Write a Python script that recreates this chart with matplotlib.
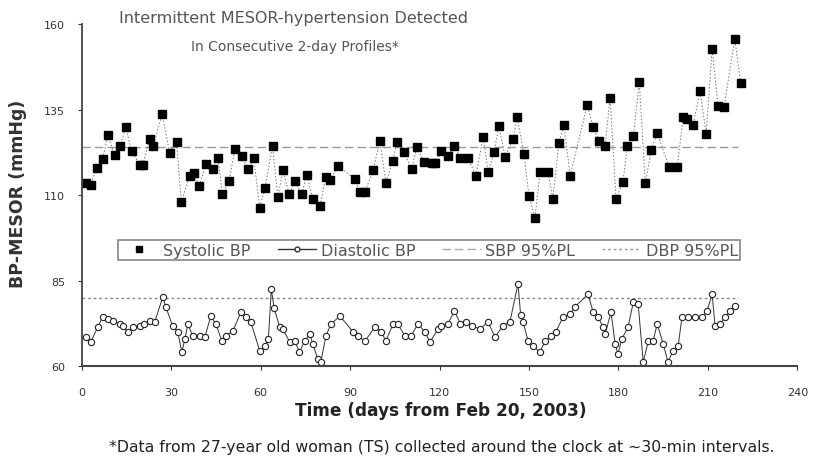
import matplotlib
matplotlib.use("Agg")
import matplotlib.pyplot as plt
from matplotlib.lines import Line2D

plt.rcParams['font.family'] = ['DejaVu Sans']

# systolic MESOR per 2-day profile
sbp_days = [1.5, 3, 5, 7, 8.8, 11, 12.8, 14.8, 16.7, 19.5, 20.5, 22.8, 24, 27, 29.5, 31.8,
            33.4, 36.2, 37.5, 39.3, 41.8, 44, 45.7, 47.2, 49.4, 51.4, 53.6, 55.8, 57.7, 59.7,
            61.4, 64, 65.8, 67.5, 69.5, 71.5, 73.8, 75.5, 77.5, 79.9, 81.9, 83.2, 86, 91.6,
            93.3, 95, 97.7, 100, 102, 104.3, 105.7, 108, 110.6, 112.4, 114.8, 117.5, 118.5,
            120.4, 123, 125, 127, 129.5, 132.2, 134.6, 136.3, 138.3, 139.9, 142, 144.6, 146,
            148.3, 150, 152, 153.7, 156.4, 158, 160, 161.7, 163.8, 169.5, 171.5, 173.5, 175.5,
            177.2, 179.2, 181.5, 183, 185, 187, 189, 191, 193, 197, 199.7, 201.7, 203, 205,
            207.4, 209.4, 211.4, 213.4, 215.4, 219, 221]
sbp = [113.5, 113, 117.9, 120.5, 127.5, 121.7, 124.3, 129.9, 122.9, 118.8, 118.8, 126.4, 124.3,
       133.7, 122.3, 125.5, 108, 115.6, 116.5, 112.6, 119, 117.6, 120.8, 110.3, 114, 123.5,
       121.4, 117.6, 120.8, 106.2, 112, 124.3, 109.4, 117.3, 110.3, 114, 110.3, 115.8, 108.8,
       106.8, 115.3, 114.4, 118.5, 114.7, 110.9, 110.9, 117.3, 125.8, 113.5, 120, 125.5,
       122.6, 117.6, 124, 119.6, 119.4, 119.4, 122.9, 121.4, 124.3, 120.8, 120.8, 115.6, 127,
       116.7, 122.6, 130.2, 121.1, 126.4, 132.8, 122, 109.7, 103.3, 116.7, 116.7, 108.8,
       125.2, 130.5, 115.6, 136.3, 129.9, 125.8, 124.3, 138.4, 108.8, 113.8, 124.3, 127.3,
       143, 113.5, 123.2, 128.1, 118.2, 118.2, 132.8, 132.3, 130.5, 140.4, 127.8, 152.7,
       136, 135.7, 155.6, 142.7]

# diastolic MESOR per 2-day profile
dbp_days = [1.5, 3, 5.4, 7, 8.7, 10.4, 12.8, 13.8, 15.4, 17.1, 19.5, 21, 22.8, 24.5, 27.2, 28.2,
            30.5, 32.2, 33.6, 34.6, 35.6, 37.2, 39.6, 41.3, 43.3, 45, 47, 48.3, 50.7, 53.4, 55,
            56.7, 59.7, 61.5, 62.6, 63.6, 64.5, 66.4, 67.4, 69.8, 71.5, 73, 74.8, 76.5, 77.5,
            79.2, 80.2, 81.9, 83.6, 86.6, 91, 92.6, 95, 98.3, 100.5, 102, 104.4, 106, 108.4,
            110.4, 112.8, 115, 116.8, 119.5, 120.5, 122.8, 125, 127, 129, 131, 133.6, 136.2,
            138.6, 141.2, 143.6, 146.3, 147.2, 148, 149.7, 151.3, 153.7, 155.4, 157.4, 159,
            161.4, 163.8, 165.4, 169.8, 171.5, 173.2, 174.8, 175.6, 177.5, 178.9, 179.8, 181.2,
            183.2, 185, 186.6, 188.3, 190, 191.6, 193, 195, 196.6, 198.3, 200, 201.3, 203.4,
            205.7, 208, 209.7, 211.4, 212.4, 214, 215.8, 217.4, 219]
dbp = [68.5, 67, 71.4, 74.3, 73.7, 73.2, 72.3, 71.7, 70, 71.4, 71.7, 72.3, 73.2, 72.9, 80.2, 77.3,
       71.7, 70, 64.1, 67.9, 72.3, 68.8, 68.8, 68.5, 74.6, 72.3, 67.3, 68.8, 70.2, 75.8, 74.3,
       72.9, 64.4, 66, 68, 82.5, 77, 71.4, 70.8, 67, 67.3, 64.1, 67.3, 69.4, 66.4, 62, 61.2,
       68.8, 72.3, 74.6, 70, 68.8, 67.3, 71.4, 70, 67.3, 72.3, 72.3, 68.8, 68.8, 72.3, 70, 67,
       70.8, 71.7, 72.3, 76.1, 72.3, 72.9, 71.7, 70.8, 72.9, 68.5, 71.7, 72.9, 84, 75, 72.9,
       67.3, 65.8, 64.1, 67.3, 68.8, 70, 74.3, 75.2, 77.3, 81, 75.8, 74.3, 71.4, 69.5, 75.8,
       66.4, 63.5, 68, 71.4, 78.7, 78.1, 61.2, 67.3, 67.3, 72.3, 66.4, 61.2, 64.4, 65.8,
       74.3, 74.3, 74.3, 74.3, 76.1, 81, 71.7, 72.3, 74.3, 76.1, 77.6]

# 95% prediction limits
sbp_pl = 124
dbp_pl = 80
pl_span = [0, 220]

fig = plt.figure(figsize=(8.17, 4.64), dpi=100)
ax = fig.add_axes([0.100, 0.209, 0.876, 0.737])

ax.plot(pl_span, [sbp_pl, sbp_pl], color="#999999", lw=1.0, ls=(0, (6, 3)))
ax.plot(pl_span, [dbp_pl, dbp_pl], color="#888888", lw=1.0, ls=(0, (2, 2)))

ax.plot(sbp_days, sbp, color="#777777", lw=0.7, ls=(0, (1.5, 2)),
        marker="s", ms=5.3, mfc="black", mec="black")
ax.plot(dbp_days, dbp, color="#333333", lw=0.7,
        marker="o", ms=4.5, mfc="white", mec="#222222", mew=0.8)

ax.set_xlim(0, 240)
ax.set_ylim(60, 160)
ax.set_xticks(range(0, 241, 30))
ax.set_yticks([60, 85, 110, 135, 160])
ax.tick_params(labelsize=8, colors="#333333", length=3, width=0.8)
ax.tick_params(axis="x", pad=12)
ax.tick_params(axis="y", pad=9)
for s in ["top", "right"]:
    ax.spines[s].set_visible(False)
ax.spines["left"].set_linewidth(1.3)
ax.spines["bottom"].set_linewidth(1.5)
ax.spines["left"].set_color("#444444")
ax.spines["bottom"].set_color("#444444")

handles = [
    Line2D([], [], ls="none", marker="s", ms=4, color="black"),
    Line2D([], [], color="#333333", lw=1, marker="o", ms=3.5, mfc="white", mec="#333333"),
    Line2D([], [], color="#aaaaaa", lw=1, ls=(0, (6, 3))),
    Line2D([], [], color="#999999", lw=1, ls=(0, (2, 2))),
]
labels = ["Systolic BP", "Diastolic BP", "SBP 95%PL", "DBP 95%PL"]
leg = ax.legend(handles, labels, loc="center", bbox_to_anchor=(0.039, 0.284, 0.892, 0.11),
                ncol=4, mode="expand", fontsize=11.5, frameon=True, fancybox=False,
                handlelength=2.4, handletextpad=0.3, borderpad=0.15, labelcolor="#555555")
leg.get_frame().set_edgecolor("#666666")
leg.get_frame().set_linewidth(1.2)

fig.text(0.359, 0.961, "Intermittent MESOR-hypertension Detected", ha="center", va="center",
         fontsize=11.5, color="#555555")
fig.text(0.361, 0.899, "In Consecutive 2-day Profiles*", ha="center", va="center",
         fontsize=10, color="#555555")

fig.text(0.022, 0.582, "BP-MESOR (mmHg)", rotation=90, ha="center", va="center",
         fontsize=12.5, fontweight="bold", color="#333333")
fig.text(0.54, 0.115, "Time (days from Feb 20, 2003)", ha="center", va="center",
         fontsize=12.2, fontweight="bold", color="#222222")
fig.text(0.541, 0.036, "*Data from 27-year old woman (TS) collected around the clock at ~30-min intervals.",
         ha="center", va="center", fontsize=11.3, color="#222222")

fig.savefig("out.png", dpi=100)
